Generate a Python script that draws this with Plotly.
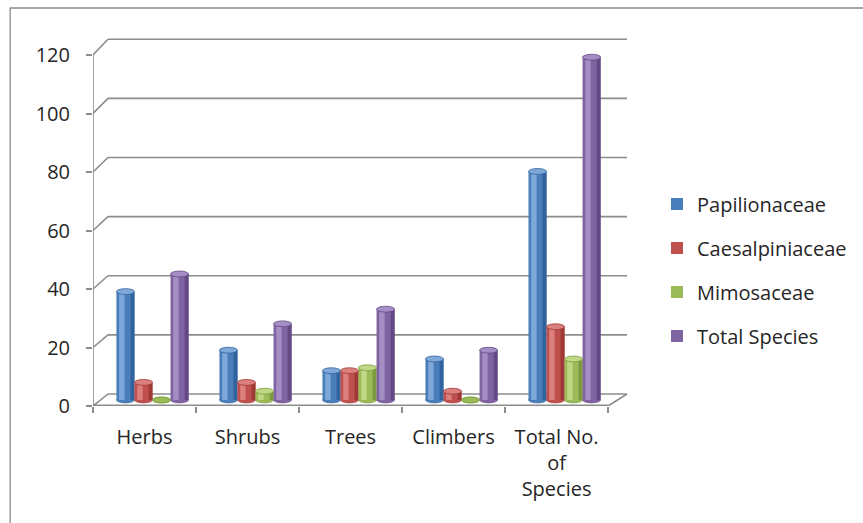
import plotly.graph_objects as go

# ---- data -------------------------------------------------------------
categories = ["Herbs", "Shrubs", "Trees", "Climbers", "Total No.<br>of<br>Species"]
papilionaceae = [37, 17, 10, 14, 78]
caesalpiniaceae = [6, 6, 10, 3, 25]
mimosaceae = [0, 3, 11, 0, 14]
total_species = [43, 26, 31, 17, 117]
y_ticks = [0, 20, 40, 60, 80, 100, 120]

# name, values, (main, light, dark)
series = [
    ("Papilionaceae", papilionaceae, ("#4A7EBB", "#7FA8DA", "#33639D")),
    ("Caesalpiniaceae", caesalpiniaceae, ("#C0504D", "#DC807D", "#9E3936")),
    ("Mimosaceae", mimosaceae, ("#9BBB59", "#BED886", "#7B9A3D")),
    ("Total Species", total_species, ("#8064A2", "#A58EC4", "#644A85")),
]

# ---- geometry of the pseudo-3D box (pixels) ---------------------------
W, H = 863, 523
PLOT_L, PLOT_R, PLOT_T, PLOT_B = 93, 640, 30, 406
CAT_PX = 103.2                      # width of one category on the front edge
FRONT_PX_PER_UNIT = 2.925           # front axis scale
BAR_ZERO_PX, BAR_PX_PER_UNIT = 400, 2.93     # plane through the bars
BACK_ZERO_PX, BACK_PX_PER_UNIT = 394, 2.956  # back wall
BACK_DX_LEFT, BACK_DX_RIGHT = 15, 19         # back wall horizontal shift
BAR_DX = 8                                   # bar plane horizontal shift

X_RANGE = [-0.5, -0.5 + (PLOT_R - PLOT_L) / CAT_PX]
Y_RANGE = [0, (PLOT_B - PLOT_T) / FRONT_PX_PER_UNIT]
Y2_RANGE = [-(PLOT_B - BAR_ZERO_PX) / BAR_PX_PER_UNIT,
            (BAR_ZERO_PX - PLOT_T) / BAR_PX_PER_UNIT]


def back_to_front(v):
    """Height on the back wall expressed in front-axis units."""
    py = BACK_ZERO_PX - BACK_PX_PER_UNIT * v
    return (PLOT_B - py) / FRONT_PX_PER_UNIT


def px_to_paper_x(px):
    return (px - PLOT_L) / (PLOT_R - PLOT_L)


def px_to_paper_y(py):
    return (PLOT_B - py) / (PLOT_B - PLOT_T)


GRID = "#8C8C8C"
TEXT = "#262626"
FONT = "Open Sans"
FSIZE = 20

fig = go.Figure()

# invisible trace that anchors the category axis
fig.add_trace(go.Scatter(x=categories, y=[0] * len(categories), mode="markers",
                         marker=dict(opacity=0), showlegend=False,
                         hoverinfo="skip", xaxis="x", yaxis="y"))

BAR_W = 0.175
GROUP_START = -0.35
shift = BAR_DX / CAT_PX
grid_shapes = []
base_shapes = []
cap_shapes = []

for k, (name, vals, (main, light, dark)) in enumerate(series):
    off = GROUP_START + k * BAR_W + shift
    # cylinder body: base colour plus soft shading strips
    strips = [
        (0.0, 1.0, main, True),
        (0.15, 0.30, light, False),
        (0.78, 0.22, dark, False),
    ]
    for start, frac, col, legend in strips:
        fig.add_trace(go.Bar(
            x=categories, y=vals, name=name, legendgroup=name,
            showlegend=legend, offset=off + start * BAR_W, width=frac * BAR_W,
            marker=dict(color=col, line=dict(width=0)),
            xaxis="x", yaxis="y2", hoverinfo="skip" if not legend else None,
        ))
    for i, v in enumerate(vals):
        x0 = i + off
        x1 = i + off + BAR_W
        # rounded bottom
        base_shapes.append(dict(type="circle", xref="x", yref="y2", layer="below",
                                x0=x0, x1=x1, y0=-1.0, y1=1.0,
                                fillcolor=main, line=dict(color=dark, width=0.6)))
        # top cap
        cap_shapes.append(dict(type="circle", xref="x", yref="y2", layer="above",
                               x0=x0, x1=x1, y0=v - 1.0, y1=v + 1.0,
                               fillcolor=light if v > 0 else main,
                               line=dict(color=dark, width=0.8)))

# back wall gridlines with the diagonal joining them to the front axis
xb_left = -0.5 + BACK_DX_LEFT / CAT_PX
xb_right = 4.5 + BACK_DX_RIGHT / CAT_PX
line_style = dict(color=GRID, width=1.6)
for t in y_ticks:
    yb = back_to_front(t)
    grid_shapes.append(dict(type="line", xref="x", yref="y", layer="below",
                            x0=-0.5, y0=t, x1=xb_left, y1=yb, line=line_style))
    grid_shapes.append(dict(type="line", xref="x", yref="y", layer="below",
                            x0=xb_left, y0=yb, x1=xb_right, y1=yb, line=line_style))

# front edges of the box: vertical axis, floor front edge, floor right edge
grid_shapes.append(dict(type="line", xref="x", yref="y", layer="below",
                        x0=-0.5, y0=0, x1=-0.5, y1=y_ticks[-1], line=line_style))
grid_shapes.append(dict(type="line", xref="x", yref="y", layer="below",
                        x0=-0.5, y0=0.2, x1=4.5, y1=0.2, line=line_style))
grid_shapes.append(dict(type="line", xref="x", yref="y", layer="below",
                        x0=4.5, y0=0, x1=xb_right, y1=back_to_front(0),
                        line=line_style))

# chart frame (top and left sides visible)
grid_shapes.append(dict(type="rect", xref="paper", yref="paper", layer="below",
                        x0=px_to_paper_x(10), x1=px_to_paper_x(880),
                        y0=px_to_paper_y(540), y1=px_to_paper_y(8),
                        line=dict(color="#8A8A8A", width=1.3)))

fig.update_layout(
    width=W, height=H,
    margin=dict(l=PLOT_L, r=W - PLOT_R, t=PLOT_T, b=H - PLOT_B, pad=0),
    paper_bgcolor="white", plot_bgcolor="white",
    barmode="overlay",
    font=dict(family=FONT, size=FSIZE, color=TEXT),
    shapes=grid_shapes + base_shapes + cap_shapes,
    xaxis=dict(type="category", range=X_RANGE, showgrid=False, zeroline=False,
               showline=False, ticks="outside", tickson="boundaries",
               ticklen=6, tickwidth=1.6, tickcolor=GRID, ticklabelstandoff=17,
               tickfont=dict(family=FONT, size=FSIZE, color=TEXT)),
    yaxis=dict(range=Y_RANGE, tickvals=y_ticks, showgrid=False, zeroline=False,
               showline=False, ticks="outside", ticklen=6, tickwidth=1.6,
               tickcolor=GRID, ticklabelstandoff=12,
               tickfont=dict(family=FONT, size=FSIZE, color=TEXT)),
    yaxis2=dict(range=Y2_RANGE, overlaying="y", visible=False),
    legend=dict(x=px_to_paper_x(657), y=px_to_paper_y(270), xanchor="left",
                yanchor="middle", tracegroupgap=15, traceorder="grouped",
                font=dict(family=FONT, size=FSIZE, color=TEXT),
                bgcolor="rgba(0,0,0,0)"),
    showlegend=True,
)

fig.write_html("out.html")
